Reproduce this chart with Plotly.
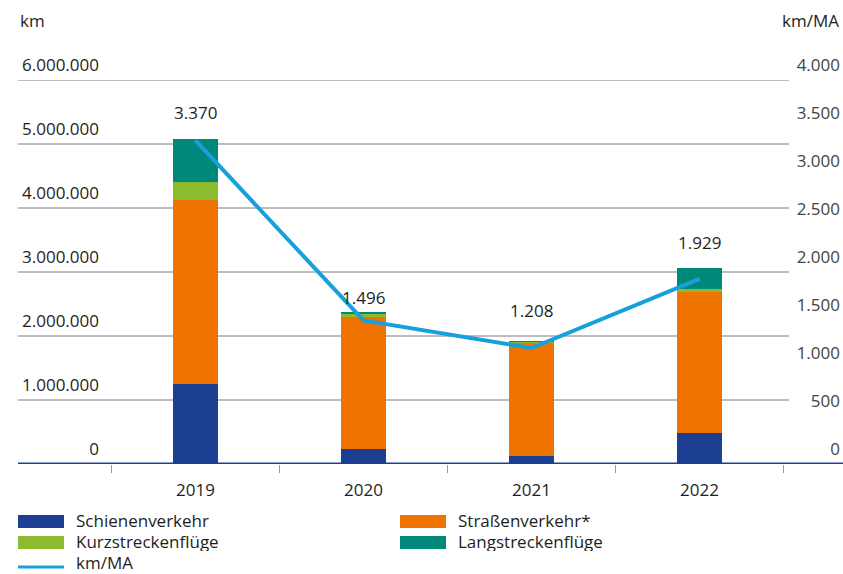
import plotly.graph_objects as go

# Jahre und Reisekilometer je Verkehrsträger (km)
years = ["2019", "2020", "2021", "2022"]
schiene = [1250000, 234000, 125000, 480000]
strasse = [2875000, 2070000, 1770000, 2210000]
kurz = [277000, 45000, 12000, 42000]
lang = [677000, 30000, 8000, 324000]

# Kilometer je Mitarbeiter
km_ma = [3370, 1496, 1208, 1929]

left_ticks = [0, 1000000, 2000000, 3000000, 4000000, 5000000, 6000000]
right_ticks = [0, 500, 1000, 1500, 2000, 2500, 3000, 3500, 4000]

C_SCHIENE = "#1c3f94"
C_STRASSE = "#ef7300"
C_KURZ = "#8dbb2f"
C_LANG = "#00897a"
C_LINE = "#16a0dc"
C_TEXT = "#1e1e1e"
FONT = "Open Sans"


def de(v):
    return f"{v:,.0f}".replace(",", ".")


W, H = 843, 574
L, R, T, B = 18, 0, 80, 110
pw = W - L - R


def px(xpix):
    return (xpix - L) / pw


def py(ypix):
    return (H - B - ypix) / (H - T - B)


fig = go.Figure()
for name, vals, col in [
    ("Schienenverkehr", schiene, C_SCHIENE),
    ("Straßenverkehr*", strasse, C_STRASSE),
    ("Kurzstreckenflüge", kurz, C_KURZ),
    ("Langstreckenflüge", lang, C_LANG),
]:
    fig.add_trace(go.Bar(x=years, y=vals, name=name, marker_color=col,
                         marker_line_width=0, width=0.27, showlegend=False))

fig.add_trace(go.Scatter(x=years, y=km_ma, name="km/MA", yaxis="y2", mode="lines",
                         line=dict(color=C_LINE, width=4), showlegend=False))

# Werte-Beschriftungen über der Linie (x als Kategorie-Index)
label_shift = [28, 23, 38, 36]
for i, (v, s) in enumerate(zip(km_ma, label_shift)):
    fig.add_annotation(xref="x", yref="y2", x=i, y=v, text=de(v), showarrow=False,
                       yshift=s, xanchor="center", yanchor="middle",
                       font=dict(size=17, color=C_TEXT, family=FONT))

# Gitternetzlinien
shapes = []
for v in left_ticks[1:]:
    shapes.append(dict(type="line", xref="paper", yref="y", x0=0, x1=px(789),
                       y0=v, y1=v, line=dict(color="#7a7a7a", width=1), layer="below"))
# Grundlinie
shapes.append(dict(type="line", xref="paper", yref="y", x0=0, x1=1.0, y0=0, y1=0,
                   line=dict(color=C_SCHIENE, width=3), layer="above"))

# Legende: (Text, Farbe, x-Pixel, y-Pixel Symbol, y-Pixel Text, Art)
legend_items = [
    ("Schienenverkehr", C_SCHIENE, 18, 521.5, 520.5, "bar"),
    ("Straßenverkehr*", C_STRASSE, 400, 521.5, 520.5, "bar"),
    ("Kurzstreckenflüge", C_KURZ, 18, 542.5, 541.5, "bar"),
    ("Langstreckenflüge", C_LANG, 400, 542.5, 541.5, "bar"),
    ("km/MA", C_LINE, 18, 567, 562, "line"),
]
for text, col, x0, ys, yt, kind in legend_items:
    if kind == "bar":
        h = 6.5 / (H - T - B)
        shapes.append(dict(type="rect", xref="paper", yref="paper", x0=px(x0), x1=px(x0 + 46),
                           y0=py(ys) - h, y1=py(ys) + h, fillcolor=col, line_width=0))
    else:
        shapes.append(dict(type="line", xref="paper", yref="paper", x0=px(x0), x1=px(x0 + 46),
                           y0=py(ys), y1=py(ys), line=dict(color=col, width=3)))
    fig.add_annotation(xref="paper", yref="paper", x=px(x0 + 56), y=py(yt), text=text,
                       showarrow=False, xanchor="left", yanchor="middle", height=19,
                       font=dict(size=17, color=C_TEXT, family=FONT))

# Achsentitel
fig.add_annotation(xref="paper", yref="paper", x=px(18), y=py(20),
                   text="km", showarrow=False, xanchor="left", yanchor="middle",
                   font=dict(size=17, color=C_TEXT, family=FONT))
fig.add_annotation(xref="paper", yref="paper", x=px(841), y=py(20),
                   text="km/MA", showarrow=False, xanchor="right", yanchor="middle",
                   font=dict(size=17, color=C_TEXT, family=FONT))

fig.update_layout(
    width=W, height=H,
    margin=dict(l=L, r=R, t=T, b=B),
    paper_bgcolor="white", plot_bgcolor="white",
    barmode="stack",
    showlegend=False,
    font=dict(family=FONT, size=17, color=C_TEXT),
    shapes=shapes,
    xaxis=dict(type="category", range=[-(195.5 - L) / 168, 3 + (W - R - 699.5) / 168],
               showgrid=False, showline=False, zeroline=False,
               ticks="outside", tickson="boundaries", ticklen=8, tickcolor="#9a9a9a",
               tickwidth=1, ticklabelstandoff=14, tickfont=dict(size=17)),
    yaxis=dict(range=[0, 6000000], tickvals=left_ticks, ticktext=[de(v) for v in left_ticks],
               showgrid=False, zeroline=False, showline=False,
               anchor="free", position=px(102), ticklabelposition="outside top",
               ticklabeloverflow="allow", ticklabelstandoff=3, ticklabelshift=-3,
               tickfont=dict(size=17)),
    yaxis2=dict(range=[0, 4000], tickvals=right_ticks, ticktext=[de(v) for v in right_ticks],
                overlaying="y", side="right", showgrid=False, zeroline=False, showline=False,
                ticklabelposition="inside top", ticklabeloverflow="allow", ticklabelshift=-3,
                tickfont=dict(size=17)),
)

fig.write_html("out.html")
